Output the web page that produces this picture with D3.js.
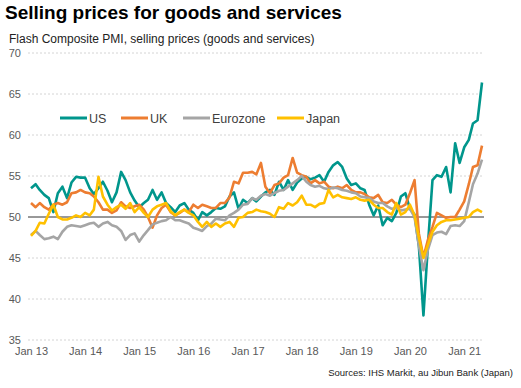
<!DOCTYPE html>
<html>
<head>
<meta charset="utf-8">
<script src="https://cdn.jsdelivr.net/npm/d3@7"></script>
<style>
  body { margin: 0; background: #fff; }
  svg { display: block; font-family: "Liberation Sans", Arial, sans-serif; }
</style>
</head>
<body>
<div id="chart"></div>
<script>
// Monthly data, Jan 2013 - May 2021

const months = d3.timeMonth.range(new Date(2013, 0, 1), new Date(2021, 5, 1));

const us = [
  53.5, 54.0, 53.3, 52.7, 52.3, 50.6, 52.9, 53.7, 52.3, 54.2, 54.9, 54.8,
  54.8, 53.5, 52.8, 53.5, 54.3, 53.2, 51.8, 53.0, 55.5, 54.5, 53.0, 52.0,
  51.2, 51.7, 52.1, 53.3, 52.1, 53.0, 51.7, 51.2, 50.6, 51.4, 51.7, 50.9,
  50.5, 49.6, 50.6, 50.2, 50.6, 51.1, 51.0, 51.3, 52.5, 53.0, 51.0, 52.1,
  51.7, 52.3, 51.9, 52.5, 53.0, 53.3, 52.7, 54.3, 53.3, 54.5, 53.3, 54.2,
  54.7, 54.9, 54.6, 54.8, 55.1, 54.3, 55.5, 56.3, 56.7, 56.1, 54.7, 53.9,
  54.1, 53.5, 53.3, 51.5, 50.2, 51.4, 49.0, 49.9, 49.5, 50.5, 52.5, 52.9,
  51.0, 50.3, 46.5, 38.0, 46.5, 54.5, 55.1, 54.9, 56.1, 53.0, 59.0, 56.6,
  58.5, 59.4, 61.4, 61.8, 66.4
];

const uk = [
  51.7, 51.2, 51.7, 51.2, 50.9, 51.5, 51.7, 51.5, 51.8, 52.9, 53.0, 53.3,
  53.0, 52.9, 52.5, 51.8, 50.9, 50.9, 50.5, 50.8, 51.8, 51.3, 51.1, 51.3,
  51.5, 50.9, 50.0, 48.7, 50.2, 51.1, 51.5, 50.6, 50.2, 50.5, 50.9, 50.6,
  51.5, 51.1, 51.5, 51.3, 51.1, 51.1, 51.7, 51.7, 52.4, 54.3, 54.1, 55.4,
  55.4, 55.5, 55.2, 56.6, 53.7, 52.9, 53.9, 54.1, 54.8, 55.1, 57.2, 55.4,
  55.1, 54.9, 54.1, 54.5, 54.1, 54.3, 53.7, 53.5, 53.7, 53.5, 53.9, 53.3,
  53.0, 53.0, 52.8, 52.4, 52.3, 52.7, 51.8, 51.7, 52.1, 51.5, 51.2, 51.5,
  52.9, 54.5, 48.0, 45.1, 47.2, 48.8, 50.5, 50.2, 49.9, 50.0, 50.0, 50.9,
  51.9, 54.0, 56.1, 56.3, 58.7
];

const eurozone = [
  47.8, 48.3, 47.8, 47.3, 47.4, 47.6, 47.3, 48.2, 48.8, 49.0, 48.9, 48.8,
  49.0, 49.2, 49.3, 48.8, 49.2, 49.4, 49.0, 48.8, 48.3, 47.2, 47.8, 48.0,
  47.0, 47.8, 48.4, 49.1, 49.3, 49.5, 49.6, 50.0, 49.6, 49.6, 49.4, 49.2,
  48.7, 48.5, 48.3, 48.9, 49.2, 49.8, 49.7, 49.6, 50.2, 50.5, 50.9, 51.5,
  51.6, 52.3, 52.1, 52.6, 52.8, 52.6, 52.9, 53.2, 53.3, 53.7, 54.1, 54.5,
  55.0, 54.3, 53.9, 53.7, 53.8, 53.5, 53.4, 53.6, 53.5, 53.3, 53.2, 53.0,
  52.9, 52.5, 52.4, 52.3, 51.9, 51.7, 51.7, 51.3, 51.0, 51.1, 50.8, 50.9,
  51.0, 50.0, 46.5, 43.5, 46.0, 47.8, 48.1, 48.2, 47.9, 48.9, 49.0, 48.9,
  49.5, 51.8, 54.0, 55.3, 57.0
];

const japan = [
  47.7, 48.3, 49.3, 49.2, 50.4, 51.5, 50.0, 49.7, 49.7, 49.9, 50.2, 50.0,
  50.5, 50.2, 50.9, 54.9, 52.5, 51.5, 50.8, 51.2, 51.5, 51.0, 51.7, 50.6,
  51.2, 50.5, 50.0, 50.9, 51.3, 51.5, 51.7, 50.7, 50.2, 50.6, 50.9, 50.5,
  50.2, 49.4, 48.8, 49.4, 48.8, 49.2, 48.8, 49.2, 49.4, 48.8, 49.9, 50.0,
  50.5, 50.6, 50.9, 50.7, 50.6, 50.4, 50.0, 51.2, 51.0, 51.7, 51.4, 51.8,
  52.6, 51.5, 51.5, 51.2, 51.6, 51.7, 53.3, 52.4, 52.7, 52.4, 52.3, 52.2,
  52.4, 52.1, 52.0, 52.1, 51.5, 51.1, 51.1, 50.6, 50.3, 51.7, 50.3, 50.6,
  51.5, 50.2, 47.5, 45.0, 46.6, 48.2, 49.0, 49.4, 49.6, 49.6, 49.7, 49.8,
  49.9, 50.0, 50.6, 50.9, 50.6
];

const seriesNames = ['US', 'UK', 'Eurozone', 'Japan'];
const seriesColors = ['#00968c', '#ed7d31', '#a5a5a5', '#ffc000'];
const seriesValues = [us, uk, eurozone, japan];

const yTicks = [35, 40, 45, 50, 55, 60, 65, 70];
const xTickLabels = ['Jan 13', 'Jan 14', 'Jan 15', 'Jan 16', 'Jan 17', 'Jan 18', 'Jan 19', 'Jan 20', 'Jan 21'];

const width = 521;
const height = 388;

const svg = d3.select('#chart').append('svg')
  .attr('width', width)
  .attr('height', height);

// Title and subtitle

svg.append('text')
  .attr('x', 5)
  .attr('y', 19)
  .attr('font-size', 19)
  .attr('font-weight', 'bold')
  .attr('fill', '#000')
  .text('Selling prices for goods and services');

svg.append('text')
  .attr('x', 9)
  .attr('y', 43)
  .attr('font-size', 12)
  .attr('fill', '#222')
  .text('Flash Composite PMI, selling prices (goods and services)');

// Scales

const xScale = d3.scaleTime()
  .domain([months[0], months[months.length - 1]])
  .range([31, 482]);

const yScale = d3.scaleLinear()
  .domain([35, 70])
  .range([340, 53]);

// Gridlines

svg.append('g')
  .selectAll('line')
  .data(yTicks.filter(d => d !== 50))
  .enter()
  .append('line')
  .attr('x1', 28)
  .attr('x2', 484)
  .attr('y1', d => yScale(d))
  .attr('y2', d => yScale(d))
  .attr('stroke', '#d4d4d4')
  .attr('stroke-width', 1)
  .attr('stroke-dasharray', '2,2');

// Y axis labels

const yAxis = d3.axisLeft(yScale).tickValues(yTicks).tickSize(0).tickPadding(0);
const yAxisGroup = svg.append('g')
  .attr('transform', 'translate(21,0)')
  .call(yAxis);
yAxisGroup.select('.domain').remove();
yAxisGroup.selectAll('text')
  .attr('font-family', '"Liberation Sans", Arial, sans-serif')
  .attr('font-size', 11)
  .attr('fill', '#595959');

// X axis labels

const januaries = months.filter(d => d.getMonth() === 0);
const xAxis = d3.axisBottom(xScale)
  .tickValues(januaries)
  .tickFormat((d, i) => xTickLabels[i])
  .tickSize(0)
  .tickPadding(0);
const xAxisGroup = svg.append('g')
  .attr('transform', 'translate(0,347)')
  .call(xAxis);
xAxisGroup.select('.domain').remove();
xAxisGroup.selectAll('text')
  .attr('font-family', '"Liberation Sans", Arial, sans-serif')
  .attr('font-size', 11)
  .attr('fill', '#595959');

// 50 line

svg.append('line')
  .attr('x1', 28)
  .attr('x2', 484)
  .attr('y1', yScale(50))
  .attr('y2', yScale(50))
  .attr('stroke', '#333')
  .attr('stroke-width', 1);

// Lines

const line = d3.line()
  .x((d, i) => xScale(months[i]))
  .y(d => yScale(d));

svg.append('g')
  .selectAll('path')
  .data(seriesValues)
  .enter()
  .append('path')
  .attr('d', d => line(d))
  .attr('fill', 'none')
  .attr('stroke', (d, i) => seriesColors[i])
  .attr('stroke-width', 2.6)
  .attr('stroke-linejoin', 'round');

// Legend

const legendX = [60, 121, 183, 277];
const legend = svg.append('g')
  .selectAll('g')
  .data(seriesNames)
  .enter()
  .append('g')
  .attr('transform', (d, i) => `translate(${legendX[i]},118)`);

legend.append('line')
  .attr('x1', 0)
  .attr('x2', 27)
  .attr('stroke', (d, i) => seriesColors[i])
  .attr('stroke-width', 3);

legend.append('text')
  .attr('x', 29)
  .attr('y', 4.5)
  .attr('font-size', 12.5)
  .attr('fill', '#404040')
  .text(d => d);

// Source

svg.append('text')
  .attr('x', 513)
  .attr('y', 376)
  .attr('text-anchor', 'end')
  .attr('font-size', 9.5)
  .attr('fill', '#222')
  .text('Sources: IHS Markit, au Jibun Bank (Japan)');
</script>
</body>
</html>
